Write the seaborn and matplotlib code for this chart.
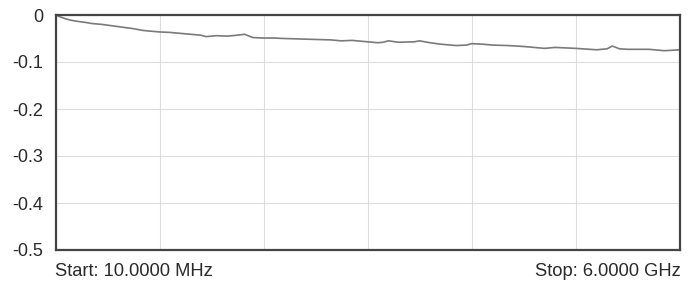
import matplotlib
matplotlib.use("Agg")
import matplotlib.pyplot as plt
import seaborn as sns
import numpy as np
import pandas as pd

freq_ghz = [0.01, 0.05, 0.1, 0.15, 0.2, 0.3, 0.35, 0.45, 0.55, 0.65, 0.75, 0.85, 0.95,
            1.0, 1.1, 1.2, 1.3, 1.4, 1.45, 1.55, 1.65, 1.75, 1.82, 1.9, 2.0, 2.1, 2.2,
            2.35, 2.5, 2.65, 2.75, 2.85, 3.0, 3.1, 3.15, 3.2, 3.3, 3.45, 3.5, 3.6, 3.7,
            3.85, 3.95, 4.0, 4.1, 4.2, 4.35, 4.5, 4.7, 4.8, 5.0, 5.2, 5.3, 5.35, 5.42,
            5.5, 5.7, 5.85, 6.0]
gain_db = [0.0, -0.004, -0.008, -0.011, -0.013, -0.016, -0.018, -0.020, -0.023, -0.026,
           -0.029, -0.033, -0.035, -0.036, -0.037, -0.039, -0.041, -0.043, -0.046, -0.044,
           -0.045, -0.043, -0.041, -0.048, -0.049, -0.049, -0.050, -0.051, -0.052, -0.053,
           -0.055, -0.054, -0.057, -0.059, -0.058, -0.055, -0.058, -0.057, -0.055, -0.059,
           -0.062, -0.065, -0.064, -0.061, -0.062, -0.064, -0.065, -0.067, -0.071, -0.069,
           -0.071, -0.074, -0.072, -0.066, -0.072, -0.073, -0.073, -0.076, -0.074]
y_ticks = [0, -0.1, -0.2, -0.3, -0.4, -0.5]
y_tick_labels = ["0", "-0.1", "-0.2", "-0.3", "-0.4", "-0.5"]
start_label = "Start: 10.0000 MHz"
stop_label = "Stop: 6.0000 GHz"

sns.set_style("white")
plt.rcParams['font.family'] = ['Liberation Sans', 'DejaVu Sans']

df = pd.DataFrame({"freq": freq_ghz, "gain": gain_db})

fig = plt.figure(figsize=(6.94, 2.87), dpi=100)
ax = fig.add_axes([56/694, 1-250/287, (680-56)/694, (250-15)/287])
sns.lineplot(data=df, x="freq", y="gain", ax=ax, color="#7a7a7a", linewidth=1.2)

ax.set_xlim(0.01, 6.0)
ax.set_ylim(-0.5, 0)
ax.set_xticks(np.linspace(0.01, 6.0, 7))
ax.set_xticklabels([])
ax.set_yticks(y_ticks)
ax.set_yticklabels(y_tick_labels, fontsize=13, color="#2a2a2a")
ax.tick_params(axis="both", length=0, pad=9)
ax.grid(True, color="#dddddd", linewidth=0.8)
ax.set_xlabel("")
ax.set_ylabel("")
for s in ax.spines.values():
    s.set_color("#444444")
    s.set_linewidth(1.6)
    s.set_visible(True)

fig.text(55/694, 1-271/287, start_label, ha="left", va="center", fontsize=13.2, color="#2a2a2a")
fig.text(681/694, 1-271/287, stop_label, ha="right", va="center", fontsize=13.2, color="#2a2a2a")

fig.savefig("out.png", dpi=100)
